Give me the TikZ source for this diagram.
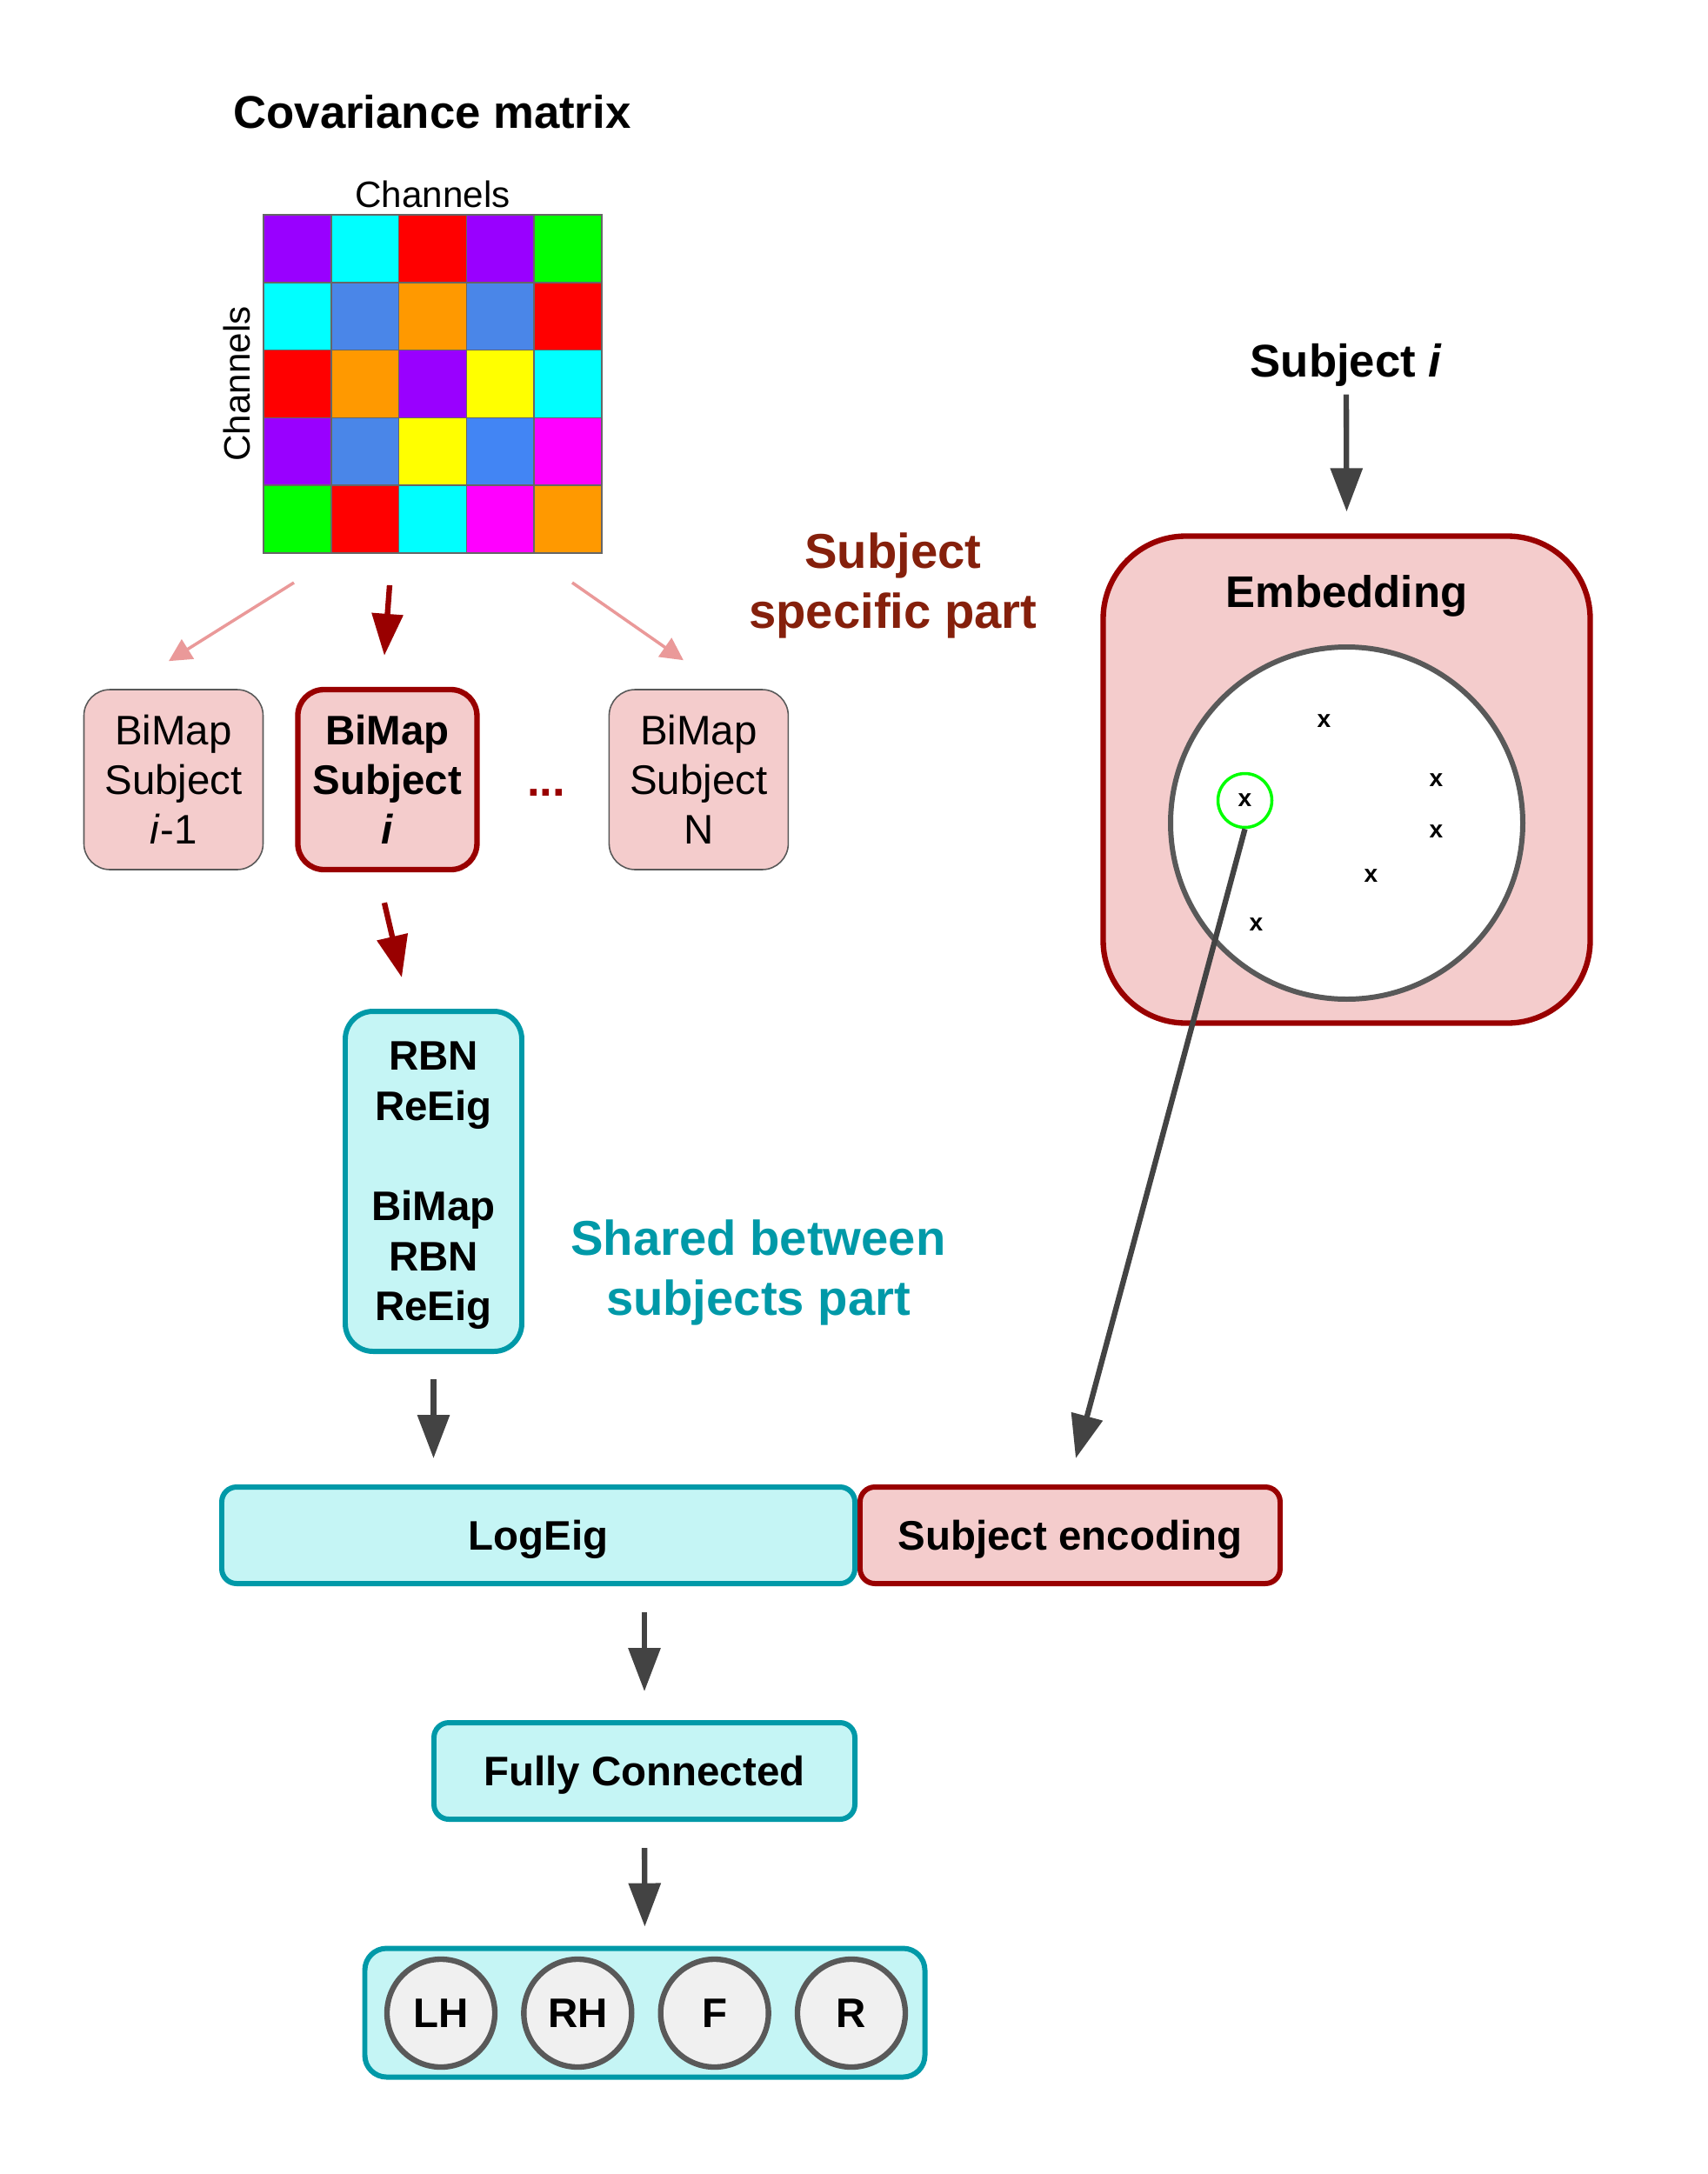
\documentclass[tikz,border=0pt]{standalone}
\usepackage{fontspec}
\setmainfont{Liberation Sans}
\usepackage{tikz}
\usetikzlibrary{shapes,arrows.meta,positioning,calc}

\definecolor{subjfill}{HTML}{F4CCCC}
\definecolor{subjline}{HTML}{990000}
\definecolor{subjlight}{HTML}{EA9999}
\definecolor{subjtext}{HTML}{85200C}
\definecolor{sharedfill}{HTML}{C5F5F5}
\definecolor{sharedline}{HTML}{0099A8}
\definecolor{arrowgray}{HTML}{434343}
\definecolor{ringgray}{HTML}{595959}
\definecolor{mpurple}{HTML}{9900FF}
\definecolor{mcyan}{HTML}{00FFFF}
\definecolor{mred}{HTML}{FF0000}
\definecolor{mgreen}{HTML}{00FF00}
\definecolor{mcorn}{HTML}{4A86E8}
\definecolor{mblue}{HTML}{4285F4}
\definecolor{morange}{HTML}{FF9900}
\definecolor{myellow}{HTML}{FFFF00}
\definecolor{mmagenta}{HTML}{FF00FF}

\begin{document}
\begin{tikzpicture}[
  title/.style={font=\bfseries\fontsize{15}{18}\selectfont,text depth=0pt},
  chan/.style={font=\fontsize{12}{14}\selectfont,inner sep=0pt},
  cell/.style={draw=gray!80!black,line width=0.5pt},
  subjbox/.style={draw=gray!70!black,line width=0.45pt,fill=subjfill,
    rounded corners=0.3cm,minimum width=2.06cm,minimum height=2.07cm,
    align=center,font=\fontsize{13.5}{16.3}\selectfont},
  subjsel/.style={subjbox,draw=subjline,line width=1.8pt,font=\bfseries\fontsize{13.5}{16.3}\selectfont},
  sharedbox/.style={draw=sharedline,line width=1.7pt,fill=sharedfill,text depth=0pt,
    rounded corners=0.32cm,align=center,font=\bfseries\fontsize{13.5}{16.4}\selectfont},
  layerbox/.style={draw=sharedline,line width=1.7pt,fill=sharedfill,text depth=0pt,
    rounded corners=0.17cm,minimum height=1.11cm,font=\bfseries\fontsize{13.5}{16}\selectfont},
  encbox/.style={layerbox,draw=subjline,fill=subjfill},
  partlabel/.style={align=center,text depth=0pt,font=\bfseries\fontsize{16}{19.6}\selectfont},
  outnode/.style={circle,draw=ringgray,line width=1.8pt,fill=gray!12,
    minimum size=1.24cm,inner sep=0pt,font=\bfseries\fontsize{13.5}{16}\selectfont},
  xmark/.style={font=\bfseries\fontsize{8}{9}\selectfont,inner sep=1pt},
  grayarrow/.style={-{Triangle[length=5mm,width=3.6mm]},line width=1.8pt,draw=arrowgray},
  redarrow/.style={-{Triangle[length=4.8mm,width=3.5mm]},line width=1.8pt,draw=subjline},
  pinkarrow/.style={-{Triangle[length=2.6mm,width=2.6mm]},line width=1pt,draw=subjlight},
]
  \useasboundingbox (0,0) rectangle (19.64,-25);

  % covariance matrix
  \node[title] (covtitle) at (4.97,-1.28) {Covariance matrix};
  \node[minimum size=3.89cm,inner sep=0pt,outer sep=0pt] (cov) at (4.975,-4.415) {};
  \foreach \mrow [count=\mr from 0] in {
      {mpurple,mcyan,mred,mpurple,mgreen},
      {mcyan,mcorn,morange,mcorn,mred},
      {mred,morange,mpurple,myellow,mcyan},
      {mpurple,mcorn,myellow,mblue,mmagenta},
      {mgreen,mred,mcyan,mmagenta,morange}}
    \foreach \mcol [count=\mc from 0] in \mrow
      \draw[cell,fill=\mcol] ($(cov.north west)+(\mc*0.778,-\mr*0.778)$) rectangle ++(0.778,-0.778);
  \node[chan,above=0.07cm of cov] (chtop) {Channels};
  \node[chan,rotate=90,anchor=south] (chleft) at ([xshift=-0.14cm]cov.west) {Channels};

  % subject specific part
  \node[subjbox] (bml) at (1.995,-8.965) {BiMap\\Subject\\\textit{i}-1};
  \node[subjsel,right=0.36cm of bml] (bmi) {BiMap\\Subject\\\textit{i}};
  \node[subjbox,right=1.48cm of bmi] (bmn) {BiMap\\Subject\\N};
  \node[font=\bfseries\fontsize{15}{18}\selectfont,text=subjline] (dots) at (6.28,-9.12) {...};
  \node[partlabel,text=subjtext] (speclabel) at (10.27,-6.68) {Subject\\specific part};

  \draw[pinkarrow] ([xshift=-1.595cm,yshift=-0.34cm]cov.south) -- ([xshift=-0.055cm,yshift=0.32cm]bml.north);
  \draw[redarrow] ([xshift=-0.495cm,yshift=-0.37cm]cov.south) -- ([xshift=-0.035cm,yshift=0.36cm]bmi.north);
  \draw[pinkarrow] ([xshift=1.605cm,yshift=-0.34cm]cov.south) -- ([xshift=-0.175cm,yshift=0.33cm]bmn.north);

  % embedding
  \node[title] (subj) at (15.48,-4.14) {Subject \textit{i}};
  \node[draw=subjline,line width=1.8pt,fill=subjfill,rounded corners=0.95cm,
    minimum size=5.6cm] (emb) at (15.485,-8.965) {};
  \node[font=\bfseries\fontsize{14.5}{17}\selectfont,text depth=0pt] (emblabel) at ($(emb.north)+(0,-0.67)$) {Embedding};
  \node[circle,draw=ringgray,line width=1.7pt,fill=white,minimum size=4.05cm] (ball)
    at ($(emb.center)+(0,-0.5)$) {};
  \foreach \dx/\dy [count=\k] in {-0.26/1.17,1.03/0.49,1.03/-0.10,0.28/-0.61,-1.04/-1.17}
    \node[xmark] (pt\k) at ($(ball.center)+(\dx,\dy)$) {x};
  \node[xmark,circle,draw=mgreen,line width=1pt,minimum size=0.62cm] (sel)
    at ($(ball.center)+(-1.17,0.26)$) {x};
  \draw[grayarrow] ([yshift=-0.08cm]subj.south) -- ([yshift=0.25cm]emb.north);

  % shared between subjects part
  \node[sharedbox,minimum width=2.03cm,minimum height=3.91cm] (shared) at (4.985,-13.585)
    {RBN\\ReEig\\[16.4pt]BiMap\\RBN\\ReEig};
  \node[partlabel,text=sharedline] (sharedlabel) at (8.72,-14.575) {Shared between\\subjects part};
  \draw[redarrow] ([xshift=-0.035cm,yshift=-0.35cm]bmi.south) -- ([xshift=-0.365cm,yshift=0.36cm]shared.north);

  \node[layerbox,minimum width=7.28cm] (logeig) at (6.19,-17.655) {LogEig};
  \node[encbox,minimum width=4.83cm,right=0pt of logeig] (subenc) {Subject encoding};
  \node[layerbox,minimum width=4.84cm] (fc) at (7.41,-20.365) {Fully Connected};

  \draw[grayarrow,shorten <=0.29cm,shorten >=0.3cm] (shared.south) -- (shared.south |- logeig.north);
  \draw[grayarrow] (sel.south) -- ([xshift=0.065cm,yshift=0.3cm]subenc.north);
  \draw[grayarrow,shorten <=0.3cm,shorten >=0.33cm] (fc.north |- logeig.south) -- (fc.north);

  % output classes
  \node[layerbox,minimum width=6.44cm,minimum height=1.48cm,rounded corners=0.25cm] (out)
    at (7.415,-23.145) {};
  \node[outnode] (lh) at (5.07,-23.15) {LH};
  \node[outnode,right=0.27cm of lh] (rh) {RH};
  \node[outnode,right=0.27cm of rh] (fo) {F};
  \node[outnode,right=0.27cm of fo] (re) {R};
  \draw[grayarrow,shorten <=0.3cm,shorten >=0.22cm] (fc.south) -- (out.north);
\end{tikzpicture}
\end{document}
